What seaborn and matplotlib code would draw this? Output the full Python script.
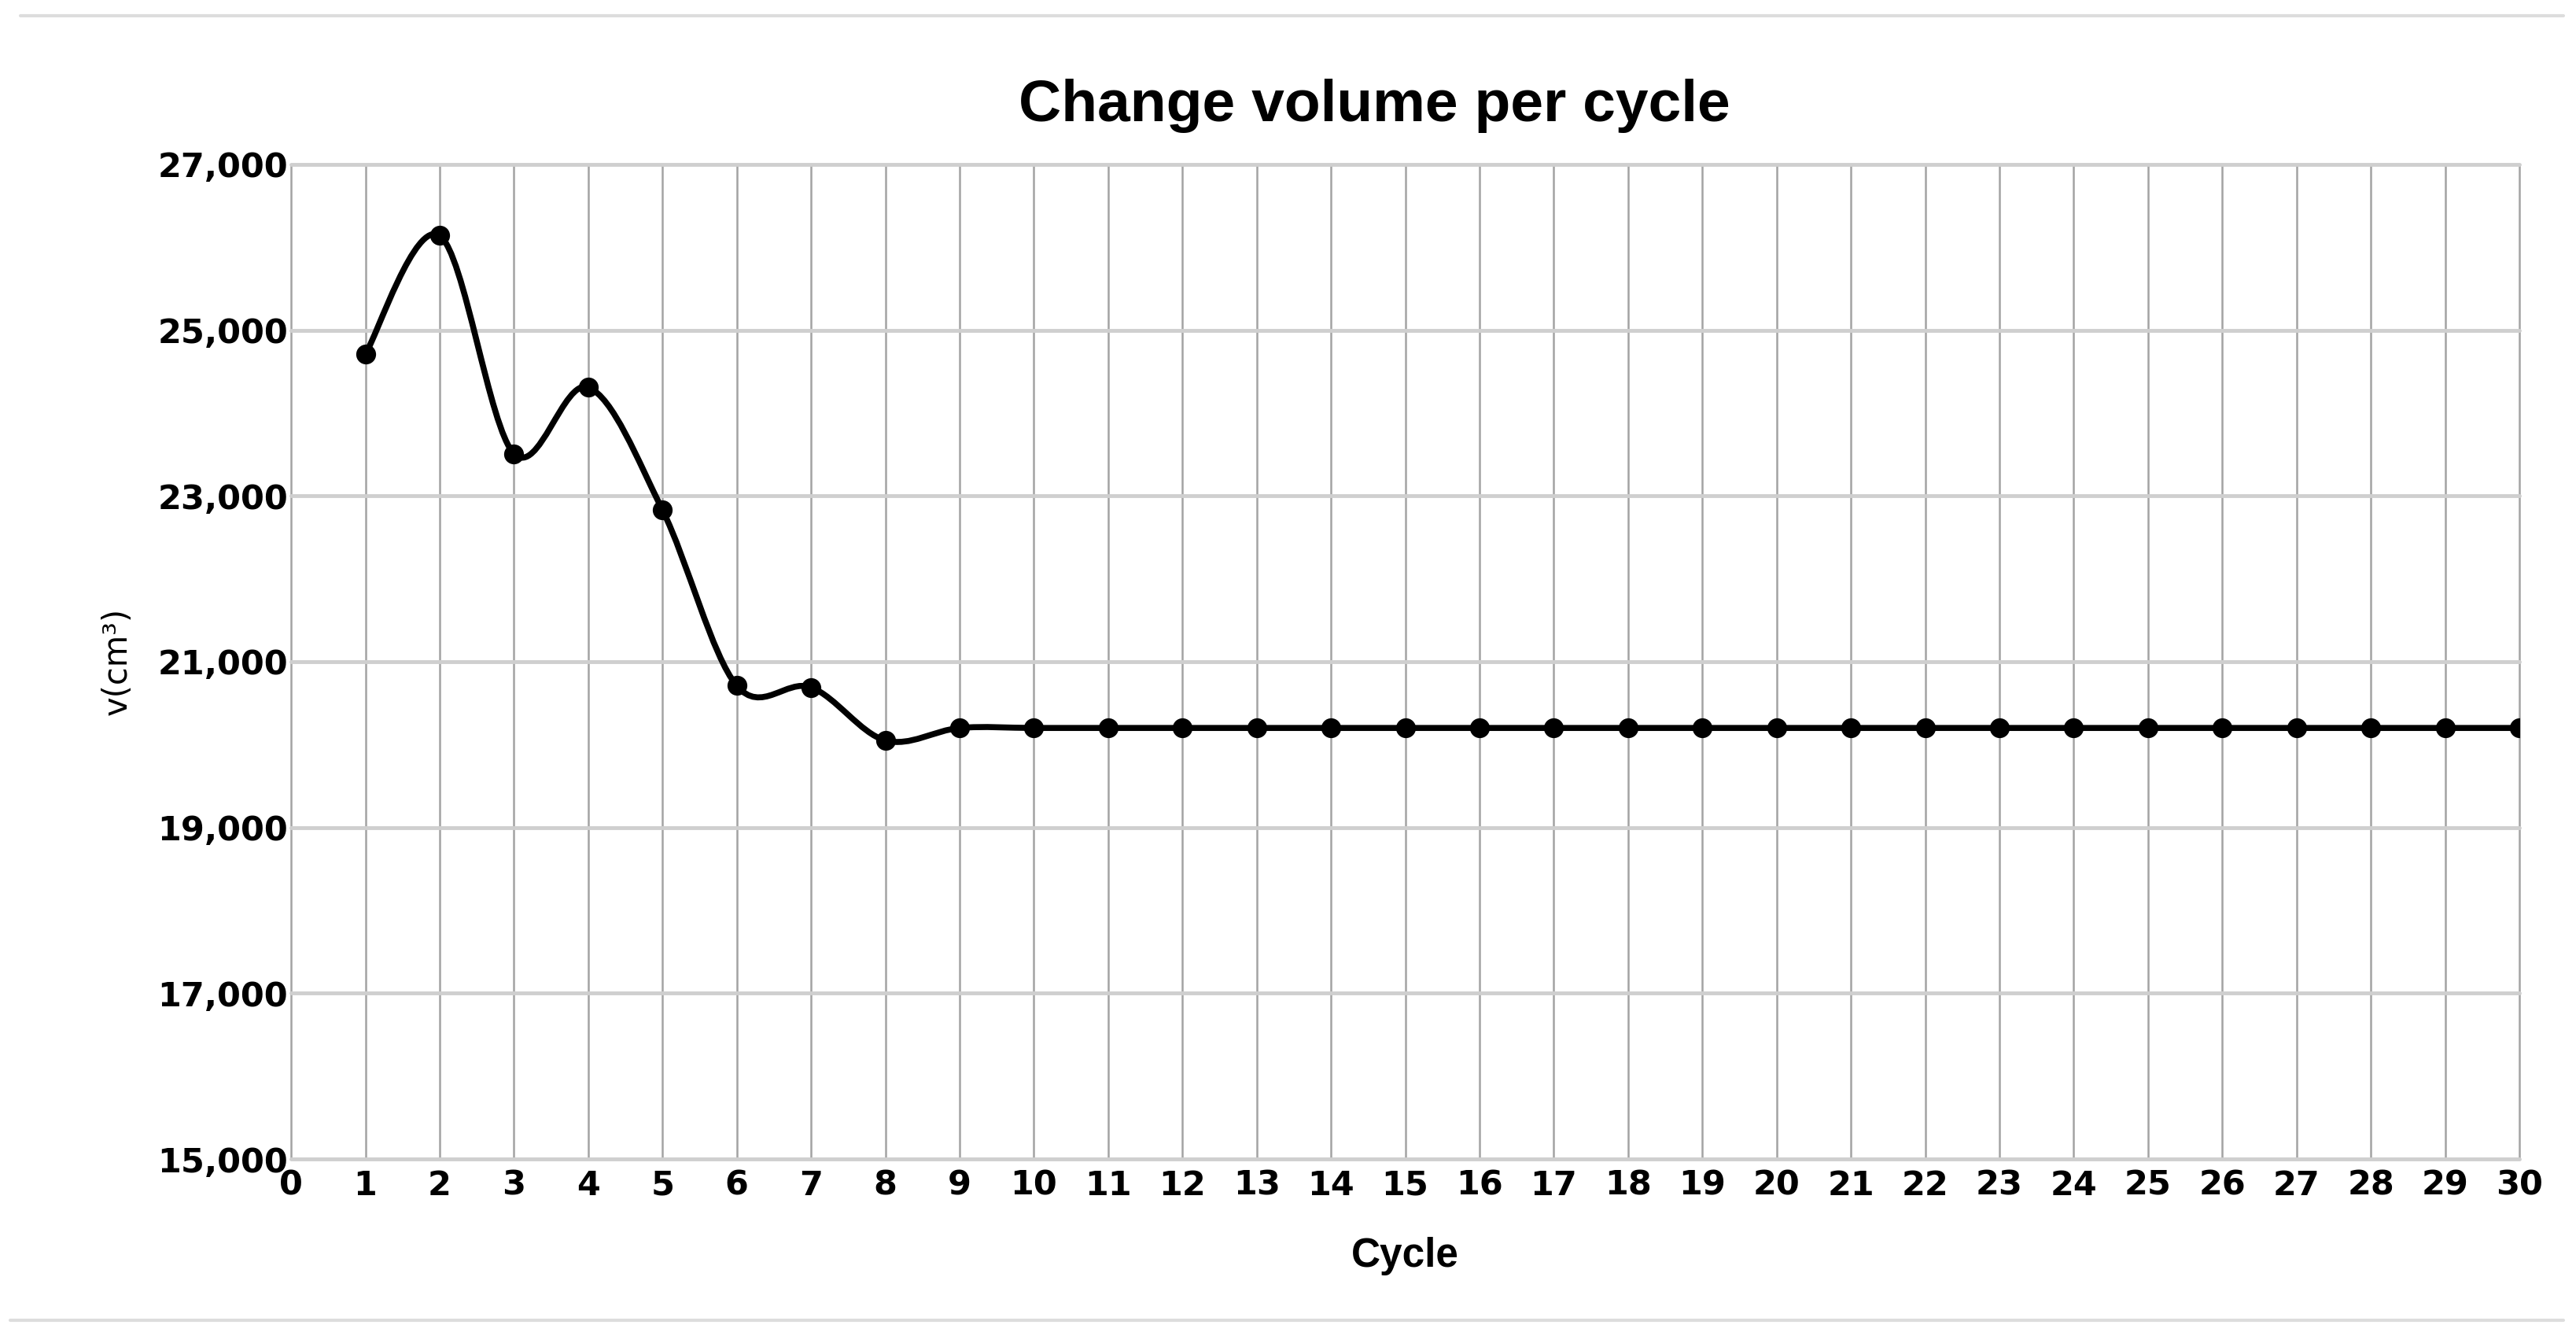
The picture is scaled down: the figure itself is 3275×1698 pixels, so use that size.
import numpy as np
import pandas as pd
import matplotlib
matplotlib.use("Agg")
import matplotlib.pyplot as plt
from matplotlib.path import Path
from matplotlib.patches import PathPatch
from matplotlib.lines import Line2D
from matplotlib.ticker import FuncFormatter
import seaborn as sns

# ---- data ----
cycles = list(range(1, 31))
volume = [24710, 26140, 23510, 24310, 22830, 20710, 20690, 20050, 20200, 20200,
          20200, 20200, 20200, 20200, 20200, 20200, 20200, 20200, 20200, 20200,
          20200, 20200, 20200, 20200, 20200, 20200, 20200, 20200, 20200, 20200]
title = "Change volume per cycle"
x_label = "Cycle"
y_label = "v(cm³)"
y_ticks = [15000, 17000, 19000, 21000, 23000, 25000, 27000]
x_ticks = list(range(0, 31))

df = pd.DataFrame({"Cycle": cycles, "Volume": volume})

sns.set_style("white")
plt.rcParams['font.family'] = ['Liberation Sans', 'DejaVu Sans']
plt.rcParams['text.color'] = 'black'
plt.rcParams['axes.labelcolor'] = 'black'
plt.rcParams['xtick.color'] = 'black'
plt.rcParams['ytick.color'] = 'black'

fig = plt.figure(figsize=(32.75, 16.98), dpi=100)
ax = fig.add_axes([0.113, 0.1325, 0.865, 0.7445])

# smooth curve (Bezier through the data points)
pts = np.column_stack([df["Cycle"].to_numpy(float), df["Volume"].to_numpy(float)])
n = len(pts)
verts = [tuple(pts[0])]
codes = [Path.MOVETO]
for i in range(n - 1):
    p0 = pts[i - 1] if i > 0 else pts[i]
    p1 = pts[i]
    p2 = pts[i + 1]
    p3 = pts[i + 2] if i + 2 < n else pts[i + 1]
    c1 = p1 + (p2 - p0) / 6.0
    c2 = p2 - (p3 - p1) / 6.0
    verts += [tuple(c1), tuple(c2), tuple(p2)]
    codes += [Path.CURVE4] * 3
patch = PathPatch(Path(verts, codes), facecolor='none', edgecolor='black',
                  lw=5.5, transform=ax.transData, zorder=3,
                  capstyle='round', joinstyle='round')
ax.add_patch(patch)

sns.scatterplot(data=df, x="Cycle", y="Volume", ax=ax, color='black', s=330,
                edgecolor='black', linewidth=0, zorder=4, legend=False)

ax.set_xlim(0, 30)
ax.set_ylim(15000, 27000)
ax.set_xticks(x_ticks)
ax.set_yticks(y_ticks)
ax.yaxis.set_major_formatter(FuncFormatter(lambda v, p: f"{v:,.0f}"))

ax.grid(False)
ax.xaxis.grid(True, color='#a3a3a3', lw=1.8, zorder=0)
ax.yaxis.grid(True, color='#cfcfcf', lw=3.5, zorder=0)
for g in ax.get_xgridlines() + ax.get_ygridlines():
    g.set_clip_on(False)
for s in ax.spines.values():
    s.set_visible(False)

ax.tick_params(axis='both', length=0)
ax.tick_params(axis='y', pad=3)
ax.tick_params(axis='x', pad=9)
for lab in ax.get_xticklabels() + ax.get_yticklabels():
    lab.set_fontfamily(['DejaVu Sans'])
    lab.set_fontweight('bold')
    lab.set_fontsize(31)
    lab.set_color('black')

ax.set_xlabel(x_label, fontsize=37, fontweight='bold', labelpad=32, color='black')
ax.set_ylabel(y_label, fontsize=30, color='black', fontfamily=['DejaVu Sans'])
ax.yaxis.set_label_coords(-0.0706, 0.5)
fig.text(0.5335, 0.921, title, ha='center', va='center', fontsize=54,
         fontweight='bold', color='black')

# light frame lines
fig.add_artist(Line2D([0.008, 0.995], [0.988, 0.988], color='#dddddd', lw=3,
                      transform=fig.transFigure))
fig.add_artist(Line2D([0.004, 0.995], [0.012, 0.012], color='#dddddd', lw=3,
                      transform=fig.transFigure))

fig.savefig("out.png", dpi=100, facecolor='white')
